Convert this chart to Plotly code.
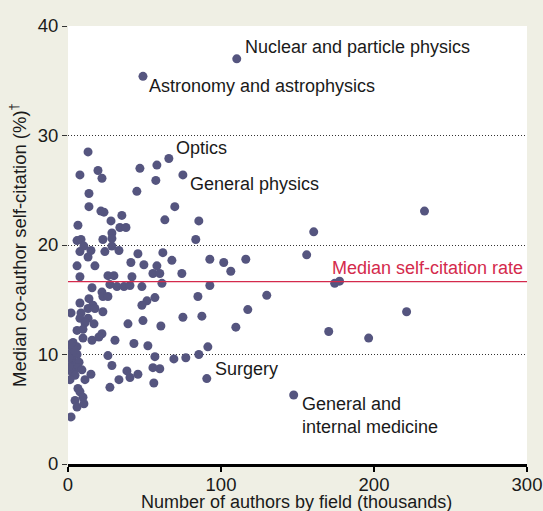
import plotly.graph_objects as go

# Number of authors by field (thousands)
authors_k = [
    110.3, 49.0, 65.9, 75.1, 90.7, 147.5,
    233.0, 160.6, 156.0, 174.3, 177.5, 129.9, 221.3, 170.4, 196.5, 117.5, 109.7,
    116.2, 106.4, 101.8, 92.7, 92.7, 85.5, 83.5, 69.8, 63.3, 58.1, 57.4, 47.0, 45.0,
    62.0, 67.9, 58.1, 55.5, 60.0, 74.4, 61.4, 84.9, 56.8, 51.6, 48.3, 75.1, 87.5,
    60.7, 49.0, 39.2, 91.4, 85.5, 77.0, 69.2, 56.8, 60.0, 55.5, 56.1, 52.2, 43.1,
    30.7, 45.7, 40.5, 38.5, 33.3, 27.4, 28.7, 26.1,
    13.1, 7.8, 19.6, 22.2, 13.7, 13.7, 6.5, 21.5, 23.5, 28.1, 35.2, 33.9, 37.9,
    28.7, 28.7, 22.8, 5.9, 8.5, 10.4, 15.0, 7.8, 13.1, 24.1, 28.7, 33.3, 5.9, 17.6,
    7.8, 26.1, 30.0, 41.1, 41.8, 45.7, 49.6, 15.7, 27.4, 32.0, 36.6, 40.5, 48.3,
    22.2, 22.8, 26.1, 13.7, 7.8, 16.3, 13.1, 17.6, 2.0, 8.5, 22.8, 7.8, 13.1, 11.1,
    17.0, 5.9, 9.8, 22.2, 9.8, 15.7, 20.2,
    3.3, 2.6, 5.9, 1.3, 3.3, 5.9, 2.6, 5.2, 7.2, 3.3, 6.5, 9.1, 2.6, 4.6, 1.3, 11.1,
    15.0, 6.5, 7.8, 9.8, 4.6, 5.9, 10.4, 2.0, 0.7, 0.7, 3.9, 1.3,
]

# Median co-author self-citation (%)
self_citation = [
    37.0, 35.4, 27.9, 26.4, 7.8, 6.3,
    23.1, 21.2, 19.1, 16.5, 16.7, 15.4, 13.9, 12.1, 11.5, 14.1, 12.5,
    18.7, 17.6, 18.4, 18.7, 16.3, 22.2, 20.5, 23.5, 22.3, 27.3, 25.9, 27.0, 24.9,
    19.3, 18.6, 18.1, 17.4, 17.4, 17.4, 16.5, 15.3, 15.2, 14.9, 14.5, 13.4, 13.5,
    12.6, 13.1, 12.8, 10.7, 10.0, 9.7, 9.6, 9.8, 8.7, 8.8, 7.4, 10.8, 11.0,
    11.3, 8.2, 7.9, 8.5, 7.7, 7.0, 9.0, 9.9,
    28.5, 26.4, 26.8, 26.1, 24.7, 23.5, 21.8, 23.1, 23.0, 22.2, 22.7, 21.6, 21.6,
    21.1, 20.6, 20.5, 20.4, 20.5, 19.9, 19.5, 19.4, 18.9, 19.4, 19.9, 19.5, 18.1, 18.1,
    17.1, 17.2, 17.2, 18.4, 17.1, 19.2, 18.2, 16.1, 16.4, 16.2, 16.2, 16.3, 16.2,
    15.7, 15.3, 15.3, 15.1, 14.7, 14.5, 14.2, 14.2, 13.8, 13.8, 13.9, 13.3, 13.3, 12.9,
    12.8, 12.2, 12.3, 11.9, 11.5, 11.3, 11.6,
    11.1, 10.7, 10.7, 10.1, 10.1, 10.0, 9.5, 9.2, 9.3, 8.9, 8.8, 8.6, 8.4, 8.1, 7.7, 7.7,
    8.2, 6.9, 6.6, 6.1, 5.8, 5.2, 5.5, 4.3, 9.7, 8.9, 10.4, 10.9,
]

median_rate = 16.65

label_texts = [
    "Nuclear and particle physics",
    "Astronomy and astrophysics",
    "Optics",
    "General physics",
    "Surgery",
    "General and<br>internal medicine",
]
label_x = [114.2, 51.6, 69.2, 78.3, 94.6, 151.4]
label_y = [38.1, 34.5, 28.9, 25.6, 8.7, 4.4]

x_ticks = [0, 100, 200, 300]
y_ticks = [0, 10, 20, 30, 40]

FONT = "Liberation Sans"
BG = "#efefe4"
DOT = "#55557f"
RED = "#d42a4c"
TXT = "#1a1a1a"

fig = go.Figure()
fig.add_trace(go.Scatter(
    x=authors_k, y=self_citation, mode="markers",
    marker=dict(color=DOT, size=9, line=dict(width=0)),
    hoverinfo="x+y", showlegend=False,
))

fig.add_shape(type="line", xref="x", yref="y", x0=0, x1=300,
              y0=median_rate, y1=median_rate,
              line=dict(color=RED, width=1.3))

for t, lx, ly in zip(label_texts, label_x, label_y):
    fig.add_annotation(x=lx, y=ly, text=t, showarrow=False, xanchor="left",
                       yanchor="middle", align="left",
                       font=dict(family=FONT, size=18, color=TXT))

fig.add_annotation(x=299, y=median_rate + 1.25, text="Median self-citation rate",
                   showarrow=False, xanchor="right", yanchor="middle",
                   font=dict(family=FONT, size=18, color=RED))

fig.add_annotation(xref="paper", yref="paper", x=-0.109, y=0.5,
                   text="Median co-author self-citation (%)<sup>†</sup>",
                   textangle=-90, showarrow=False, xanchor="center", yanchor="middle",
                   font=dict(family=FONT, size=18.5, color=TXT))
fig.add_annotation(xref="paper", yref="paper", x=0.497, y=-0.087,
                   text="Number of authors by field (thousands)",
                   showarrow=False, xanchor="center", yanchor="middle",
                   font=dict(family=FONT, size=18, color=TXT))

fig.update_layout(
    width=543, height=511,
    margin=dict(l=68, r=16, t=26, b=47, pad=0, autoexpand=False),
    paper_bgcolor=BG, plot_bgcolor="white",
    font=dict(family=FONT, size=18, color=TXT),
    xaxis=dict(range=[0, 300], tickvals=x_ticks, showgrid=False, zeroline=False,
               showline=True, linecolor="black", linewidth=3, automargin=False,
               ticks="outside", ticklen=5, tickwidth=2, tickcolor="black",
               ticklabelstandoff=-3, tickfont=dict(size=18.5)),
    yaxis=dict(range=[0, 40], tickvals=y_ticks, showgrid=True, gridcolor="#333333",
               griddash="1px,2px", gridwidth=1, zeroline=False, showline=False,
               automargin=False,
               ticks="outside", ticklen=5, tickwidth=1, tickcolor="#333333",
               tickfont=dict(size=18.5)),
)

fig.write_html("out.html", config={"displayModeBar": False},
               post_script="document.body.style.margin='0';document.body.style.overflow='hidden';")
